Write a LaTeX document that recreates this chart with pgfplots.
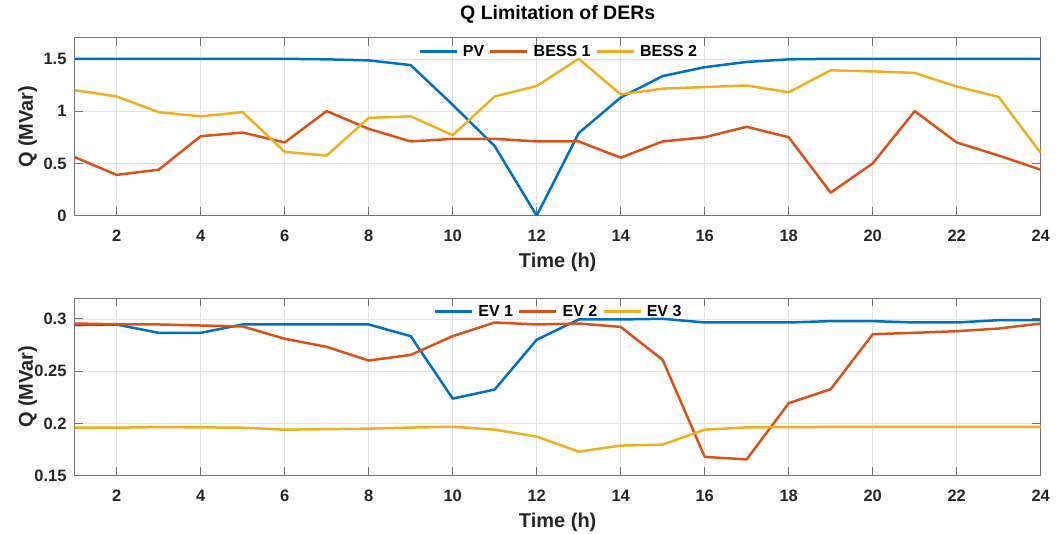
\documentclass[border=0pt]{standalone}
\usepackage{pgfplots}
\pgfplotsset{compat=1.18}
\usepackage{pgfplotstable}
\usepackage{fontspec}
\setmainfont{Liberation Sans}
\definecolor{c1}{rgb}{0,0.447,0.741}
\definecolor{c2}{rgb}{0.85,0.325,0.098}
\definecolor{c3}{rgb}{0.929,0.694,0.125}
\definecolor{axc}{rgb}{0.15,0.15,0.15}

\pgfplotstableread{
x PV BESSa BESSb
1 1.5 0.56 1.20
2 1.5 0.39 1.14
3 1.5 0.44 0.99
4 1.5 0.76 0.95
5 1.5 0.795 0.99
6 1.5 0.70 0.61
7 1.495 1.0 0.575
8 1.485 0.83 0.935
9 1.44 0.71 0.95
10 1.06 0.735 0.77
11 0.665 0.735 1.14
12 0 0.71 1.24
13 0.79 0.71 1.50
14 1.13 0.555 1.16
15 1.335 0.71 1.215
16 1.42 0.75 1.23
17 1.47 0.85 1.245
18 1.495 0.75 1.18
19 1.5 0.22 1.39
20 1.5 0.50 1.38
21 1.5 1.0 1.365
22 1.5 0.70 1.235
23 1.5 0.575 1.135
24 1.5 0.44 0.60
}\toptab

\pgfplotstableread{
x EVa EVb EVc
1 0.2940 0.2955 0.1959
2 0.2945 0.2948 0.1959
3 0.2866 0.2946 0.1965
4 0.2866 0.2936 0.1962
5 0.2946 0.2927 0.1959
6 0.2946 0.2809 0.1940
7 0.2946 0.2732 0.1945
8 0.2946 0.2601 0.1950
9 0.2834 0.2655 0.1960
10 0.2237 0.2834 0.1968
11 0.2324 0.2965 0.1940
12 0.2800 0.2946 0.1874
13 0.2994 0.2955 0.1730
14 0.2994 0.2923 0.1788
15 0.3000 0.2607 0.1797
16 0.2965 0.1680 0.1940
17 0.2965 0.1656 0.1962
18 0.2965 0.2193 0.1965
19 0.2978 0.2327 0.1966
20 0.2978 0.2853 0.1968
21 0.2965 0.2866 0.1968
22 0.2965 0.2882 0.1968
23 0.2987 0.2907 0.1968
24 0.2987 0.2955 0.1968
}\bottab

\pgfplotsset{
  myaxis/.style={
    scale only axis,
    width=966pt, height=177.8pt,
    xmin=1, xmax=24,
    xtick={2,4,...,24},
    grid=major,
    major grid style={color=black!11, line width=0.6pt},
    axis line style={color=black!55, line width=0.8pt},
    tick style={color=black!55, line width=0.8pt},
    major tick length=8.5pt,
    tick pos=both,
    tick align=inside,
    /pgf/number format/assume math mode=true,
    /pgf/number format/fixed,
    tick label style={font=\fontsize{16.5}{16.5}\selectfont\bfseries, text=axc},
    xticklabel style={anchor=north, inner sep=0pt, yshift=-14.5pt},
    yticklabel style={anchor=east, inner sep=0pt, xshift=-8pt},
    label style={font=\fontsize{20}{20}\selectfont\bfseries, text=axc},
    xlabel style={at={(axis description cs:0.5,0)}, anchor=center, yshift=-47pt},
    ylabel style={at={(axis description cs:0,0.5)}, anchor=center, yshift=47pt},
    legend columns=-1,
    legend style={at={(0.5,1)}, anchor=north, yshift=-7pt, draw=none, fill=none,
      font=\fontsize{16}{16}\selectfont\bfseries, text=black,
      inner sep=0pt,
      nodes={inner sep=0pt},
      /tikz/every odd column/.append style={column sep=5pt},
      /tikz/every even column/.append style={column sep=5pt}},
    legend image code/.code={\draw[#1, line width=2.5pt] (0pt,0pt) -- (37pt,0pt);},
    every axis plot/.append style={line width=2.5pt, line join=round},
  }
}

\begin{document}
\begin{tikzpicture}
\useasboundingbox (0,0) rectangle (1057pt,533pt);
\begin{axis}[myaxis,
  at={(74.7pt,317.3pt)}, anchor=south west,
  ymin=0, ymax=1.7,
  ytick={0,0.5,1,1.5},
  xlabel={Time (h)}, ylabel={Q (MVar)},
  title={Q Limitation of DERs},
  title style={font=\fontsize{19.5}{19.5}\selectfont\bfseries, text=black, at={(axis description cs:0.5,1)}, anchor=center, yshift=17.5pt},
]
\addplot[c1] table[x=x,y=PV] {\toptab};
\addplot[c2] table[x=x,y=BESSa] {\toptab};
\addplot[c3] table[x=x,y=BESSb] {\toptab};
\legend{PV,BESS 1,BESS 2}
\end{axis}
\begin{axis}[myaxis,
  at={(74.7pt,57.3pt)}, anchor=south west,
  ymin=0.15, ymax=0.32,
  ytick={0.15,0.2,0.25,0.3},
  xlabel={Time (h)}, ylabel={Q (MVar)},
]
\addplot[c1] table[x=x,y=EVa] {\bottab};
\addplot[c2] table[x=x,y=EVb] {\bottab};
\addplot[c3] table[x=x,y=EVc] {\bottab};
\legend{EV 1,EV 2,EV 3}
\end{axis}
\end{tikzpicture}
\end{document}
